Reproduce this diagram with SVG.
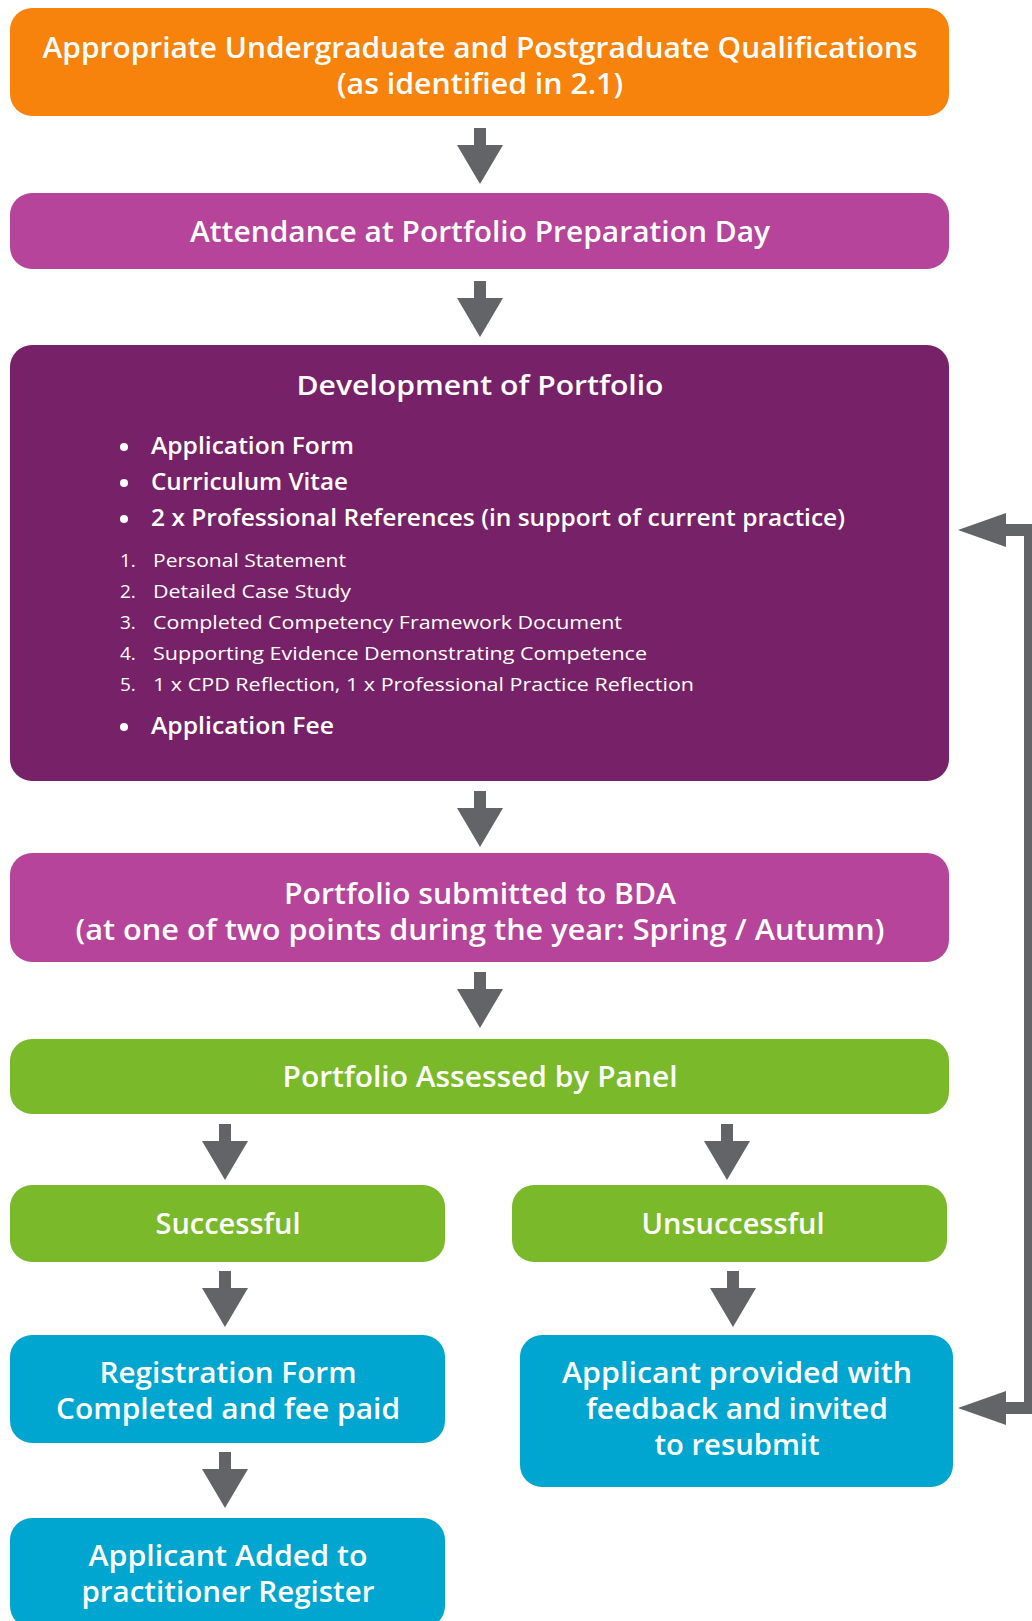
<svg xmlns="http://www.w3.org/2000/svg" xmlns:xlink="http://www.w3.org/1999/xlink" width="1032" height="1621" viewBox="0 0 1032 1621">
<style>
.t{font-family:"Open Sans","Noto Sans","Liberation Sans",sans-serif;font-weight:600;fill:#ffffff;}
.c{text-anchor:middle;}
.h{font-size:29px;}
.b{font-size:24px;}
.n{font-size:19px;font-weight:400;}
.or{fill:#F8830C;}
.mg{fill:#B5449A;}
.pu{fill:#762168;}
.gr{fill:#7AB929;}
.bl{fill:#00A6CF;}
.ar{fill:#636467;}
</style>
<defs>
<path id="arr" d="M-6,0 H6 V17 H23 L0,56 L-23,17 H-6 Z"/>
</defs>
<rect width="1032" height="1621" fill="#ffffff"/>
<g id="connectors" class="ar">
<use xlink:href="#arr" transform="translate(480,128)"/>
<use xlink:href="#arr" transform="translate(480,281)"/>
<use xlink:href="#arr" transform="translate(480,791)"/>
<use xlink:href="#arr" transform="translate(480,972)"/>
<use xlink:href="#arr" transform="translate(225,1124)"/>
<use xlink:href="#arr" transform="translate(727,1124)"/>
<use xlink:href="#arr" transform="translate(225,1271)"/>
<use xlink:href="#arr" transform="translate(733,1271)"/>
<use xlink:href="#arr" transform="translate(225,1452)"/>
<path d="M958,530 L1006,513 L1006,524 L1036,524 L1036,1414 L1006,1414 L1006,1425 L958,1408 L1006,1391 L1006,1402 L1024,1402 L1024,536 L1006,536 L1006,547 Z"/>
</g>
<g id="qualifications">
<rect class="or" x="10" y="8" width="939" height="108" rx="22"/>
<text class="t c h" x="480" y="58" textLength="875" lengthAdjust="spacingAndGlyphs">Appropriate Undergraduate and Postgraduate Qualifications</text>
<text class="t c h" x="480" y="94" textLength="286" lengthAdjust="spacingAndGlyphs">(as identified in 2.1)</text>
</g>
<g id="attendance">
<rect class="mg" x="10" y="193" width="939" height="76" rx="22"/>
<text class="t c h" x="480" y="242" textLength="580" lengthAdjust="spacingAndGlyphs">Attendance at Portfolio Preparation Day</text>
</g>
<g id="development">
<rect class="pu" x="10" y="345" width="939" height="436" rx="22"/>
<text class="t c" style="font-size:27px" x="480" y="395" textLength="367" lengthAdjust="spacingAndGlyphs">Development of Portfolio</text>
<circle cx="124" cy="447" r="4" fill="#fff"/>
<text class="t b" x="151" y="454" textLength="203" lengthAdjust="spacingAndGlyphs">Application Form</text>
<circle cx="124" cy="483" r="4" fill="#fff"/>
<text class="t b" x="151" y="490" textLength="197" lengthAdjust="spacingAndGlyphs">Curriculum Vitae</text>
<circle cx="124" cy="519" r="4" fill="#fff"/>
<text class="t b" x="151" y="526" textLength="694" lengthAdjust="spacingAndGlyphs">2 x Professional References (in support of current practice)</text>
<text class="t n" x="120" y="567">1.</text>
<text class="t n" x="153" y="567" textLength="193" lengthAdjust="spacingAndGlyphs">Personal Statement</text>
<text class="t n" x="120" y="598">2.</text>
<text class="t n" x="153" y="598" textLength="198" lengthAdjust="spacingAndGlyphs">Detailed Case Study</text>
<text class="t n" x="120" y="629">3.</text>
<text class="t n" x="153" y="629" textLength="469" lengthAdjust="spacingAndGlyphs">Completed Competency Framework Document</text>
<text class="t n" x="120" y="660">4.</text>
<text class="t n" x="153" y="660" textLength="494" lengthAdjust="spacingAndGlyphs">Supporting Evidence Demonstrating Competence</text>
<text class="t n" x="120" y="691">5.</text>
<text class="t n" x="153" y="691" textLength="541" lengthAdjust="spacingAndGlyphs">1 x CPD Reflection, 1 x Professional Practice Reflection</text>
<circle cx="124" cy="727" r="4" fill="#fff"/>
<text class="t b" x="151" y="734" textLength="183" lengthAdjust="spacingAndGlyphs">Application Fee</text>
</g>
<g id="submitted">
<rect class="mg" x="10" y="853" width="939" height="109" rx="22"/>
<text class="t c h" x="480" y="904" textLength="392" lengthAdjust="spacingAndGlyphs">Portfolio submitted to BDA</text>
<text class="t c h" x="480" y="940" textLength="809" lengthAdjust="spacingAndGlyphs">(at one of two points during the year: Spring / Autumn)</text>
</g>
<g id="assessed">
<rect class="gr" x="10" y="1039" width="939" height="75" rx="22"/>
<text class="t c h" x="480" y="1087" textLength="395" lengthAdjust="spacingAndGlyphs">Portfolio Assessed by Panel</text>
</g>
<g id="successful">
<rect class="gr" x="10" y="1185" width="435" height="77" rx="22"/>
<text class="t c h" x="228" y="1234" textLength="145" lengthAdjust="spacingAndGlyphs">Successful</text>
</g>
<g id="unsuccessful">
<rect class="gr" x="512" y="1185" width="435" height="77" rx="22"/>
<text class="t c h" x="733" y="1234" textLength="183" lengthAdjust="spacingAndGlyphs">Unsuccessful</text>
</g>
<g id="registration">
<rect class="bl" x="10" y="1335" width="435" height="108" rx="22"/>
<text class="t c h" x="228" y="1383" textLength="257" lengthAdjust="spacingAndGlyphs">Registration Form</text>
<text class="t c h" x="228" y="1419" textLength="344" lengthAdjust="spacingAndGlyphs">Completed and fee paid</text>
</g>
<g id="feedback">
<rect class="bl" x="520" y="1335" width="433" height="152" rx="22"/>
<text class="t c h" x="737" y="1383" textLength="350" lengthAdjust="spacingAndGlyphs">Applicant provided with</text>
<text class="t c h" x="737" y="1419" textLength="302" lengthAdjust="spacingAndGlyphs">feedback and invited</text>
<text class="t c h" x="737" y="1455" textLength="165" lengthAdjust="spacingAndGlyphs">to resubmit</text>
</g>
<g id="added">
<rect class="bl" x="10" y="1518" width="435" height="110" rx="22"/>
<text class="t c h" x="228" y="1566" textLength="279" lengthAdjust="spacingAndGlyphs">Applicant Added to</text>
<text class="t c h" x="228" y="1602" textLength="293" lengthAdjust="spacingAndGlyphs">practitioner Register</text>
</g>
</svg>
